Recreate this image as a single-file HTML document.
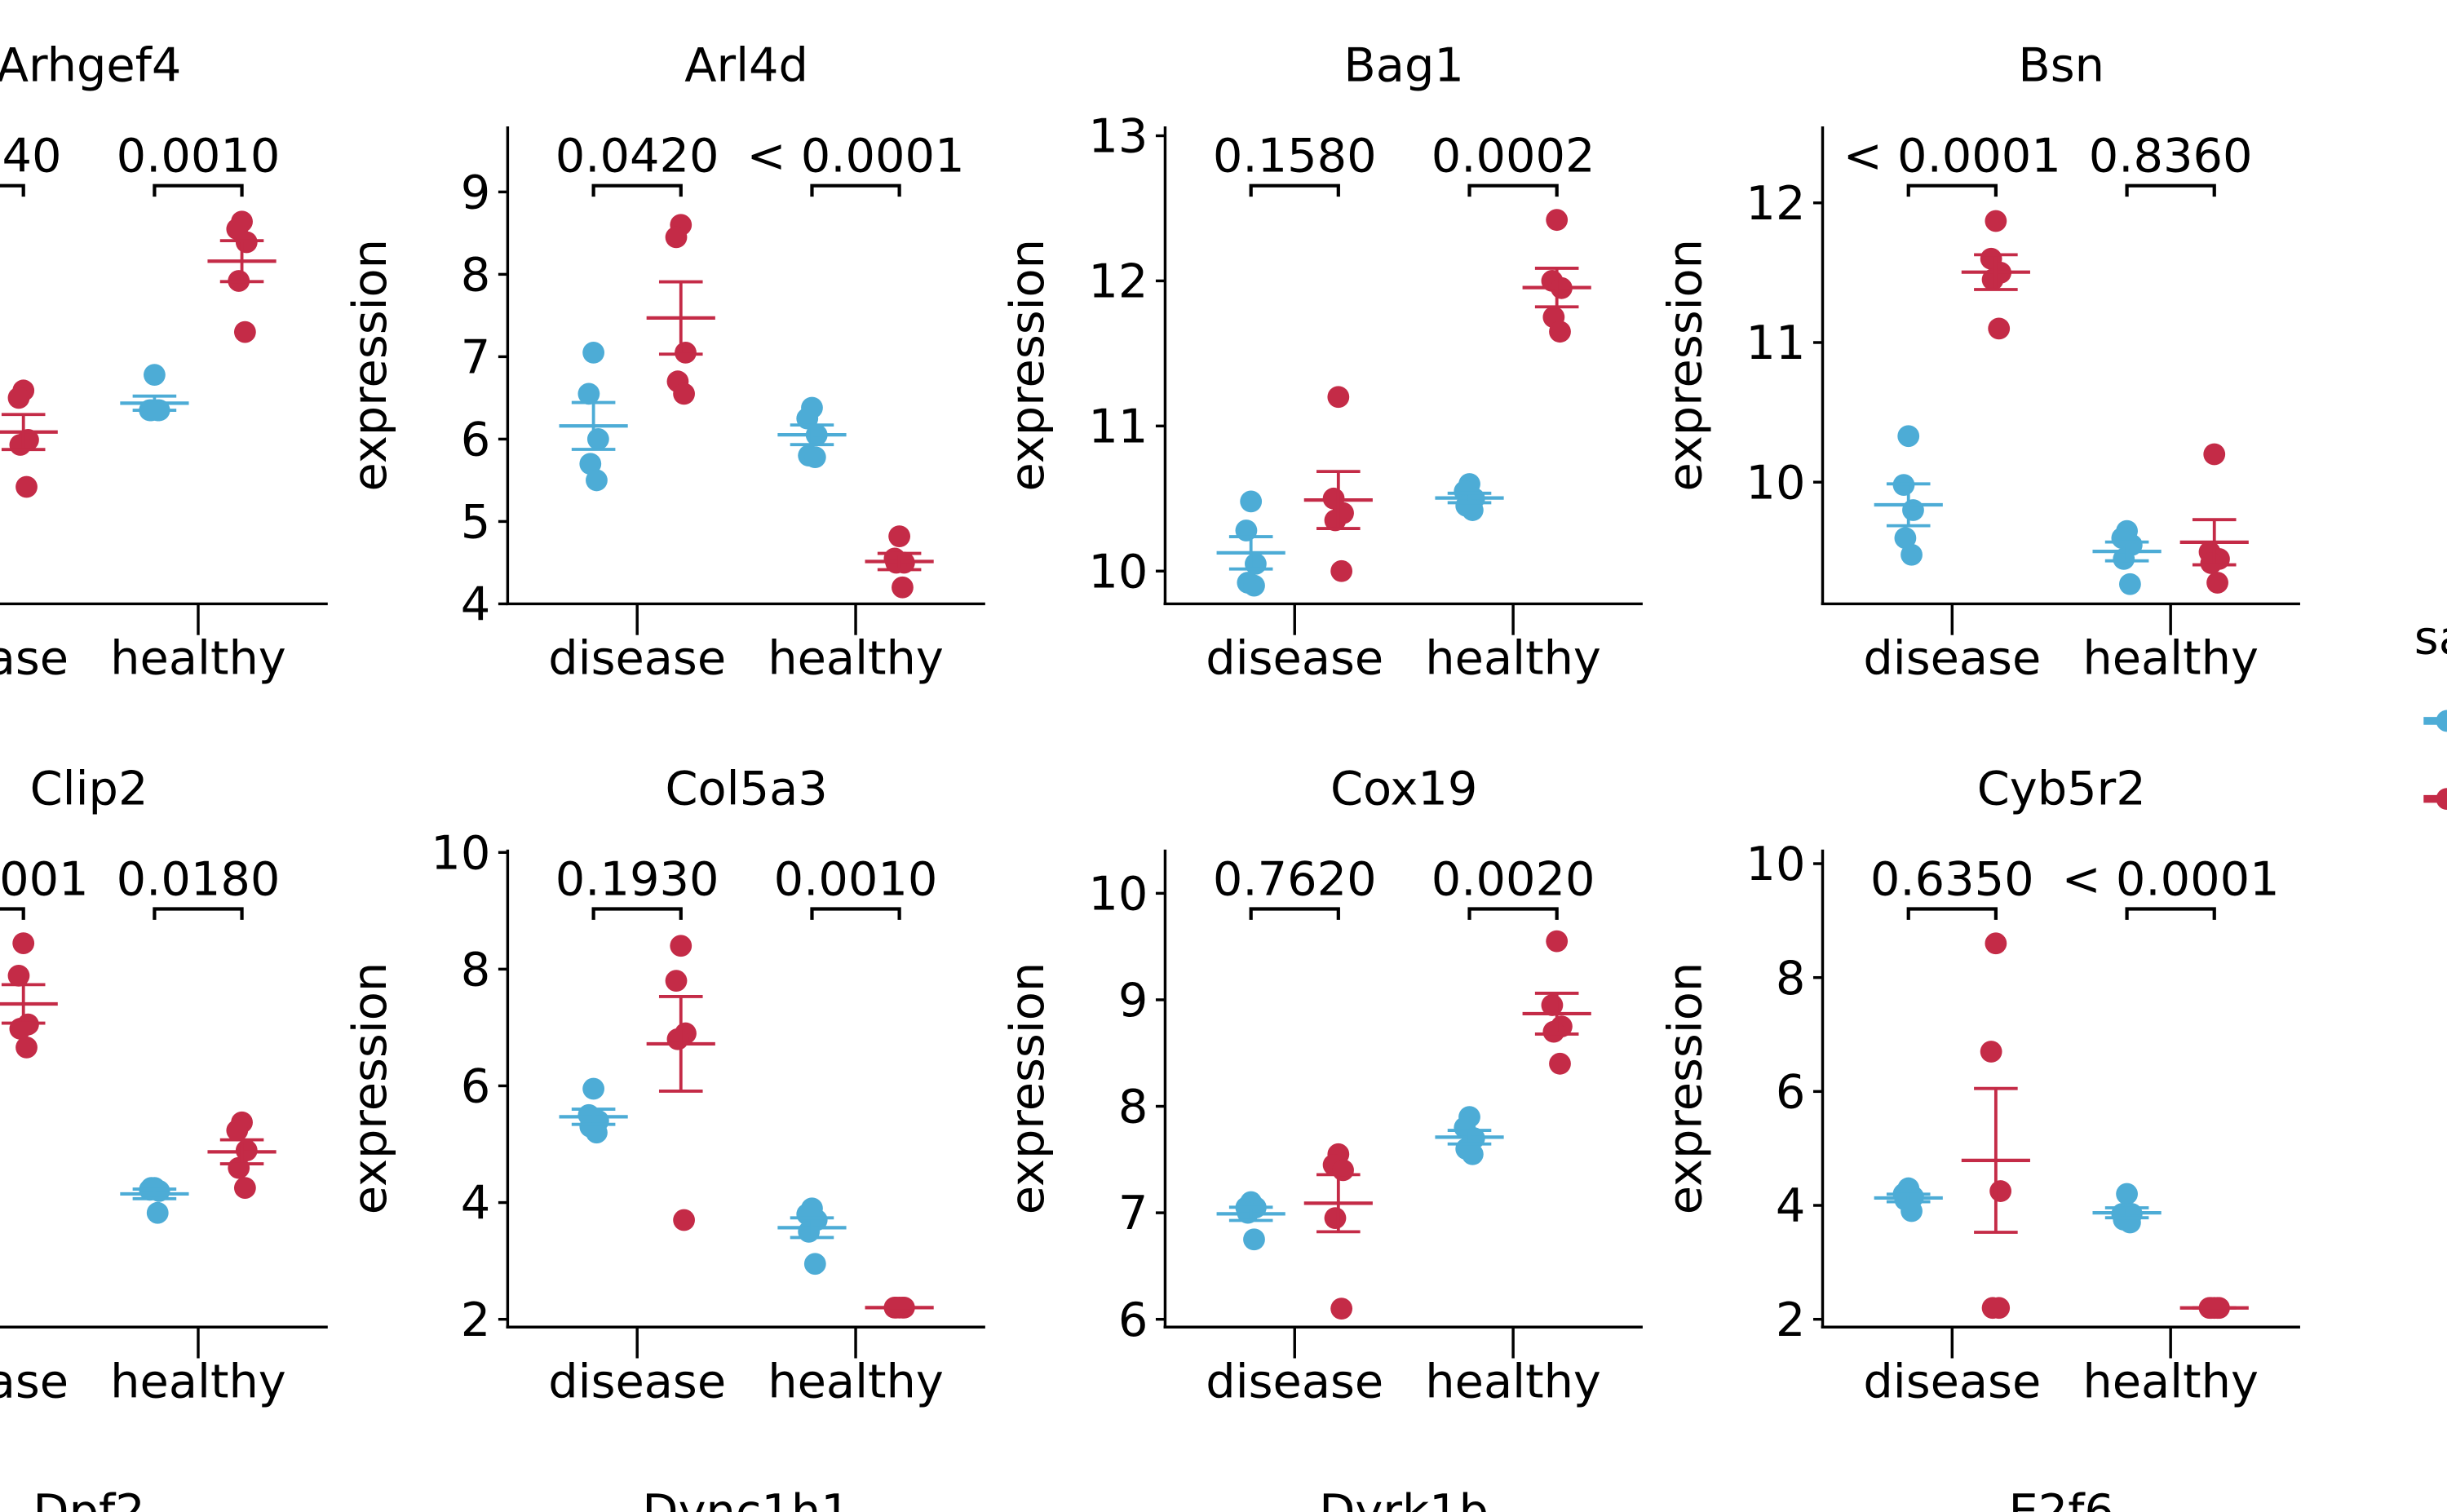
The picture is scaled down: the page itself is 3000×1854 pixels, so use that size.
<!DOCTYPE html>
<html><head><meta charset="utf-8"><style>
html,body{margin:0;padding:0;background:#fff;}
svg{display:block;font-family:"DejaVu Sans","Liberation Sans",sans-serif;}
</style></head><body>
<svg id="chart" width="3000" height="1854" viewBox="0 0 1568 969" xmlns="http://www.w3.org/2000/svg">
<rect width="1568" height="969" fill="#fff"/>
<g id="panels"></g>
<g id="legend">
<text x="1547" y="419" font-size="30" fill="#000">sample</text>
<g><line x1="1553" y1="462" x2="1568" y2="462" stroke="#4dacd6" stroke-width="5"/><circle cx="1568" cy="462" r="7" fill="#4dacd6"/></g>
<g><line x1="1553" y1="512" x2="1568" y2="512" stroke="#c42b47" stroke-width="5"/><circle cx="1568" cy="512" r="7" fill="#c42b47"/></g>
</g>
</svg>
<script>
const genes = ["Arhgef4","Arl4d","Bag1","Bsn","Clip2","Col5a3","Cox19","Cyb5r2"];
const row3Genes = ["Dpf2","Dync1h1","Dyrk1b","E2f6"];
const groups = ["disease","healthy"];
const pLabels = [["0.0940","0.0010"],["0.0420","< 0.0001"],["0.1580","0.0002"],["< 0.0001","0.8360"],["< 0.0001","0.0180"],["0.1930","0.0010"],["0.7620","0.0020"],["0.6350","< 0.0001"]];
// values: [disease-blue, disease-red, healthy-blue, healthy-red]
const diseaseBlue = [[6.2,6.0,5.9,5.8,5.7],[7.05,6.55,6.0,5.7,5.5],[10.48,10.28,10.05,9.92,9.9],[10.33,9.98,9.8,9.6,9.48],[3.5,3.3,3.2,3.1,3.0],[5.95,5.5,5.4,5.3,5.2],[7.1,7.05,7.05,7.0,6.75],[4.3,4.2,4.15,4.1,3.9]];
const diseaseRed = [[6.59,6.5,5.99,5.93,5.42],[8.6,8.45,7.05,6.7,6.55],[11.2,10.5,10.4,10.35,10.0],[11.87,11.6,11.5,11.45,11.1],[6.15,5.63,4.85,4.78,4.48],[8.4,7.8,6.9,6.8,3.7],[7.55,7.45,7.4,6.95,6.1],[8.6,6.7,4.25,2.2,2.2]];
const healthyBlue = [[6.78,6.35,6.35,6.35,6.35],[6.38,6.25,6.05,5.8,5.78],[10.6,10.55,10.5,10.45,10.42],[9.65,9.6,9.55,9.45,9.27],[2.23,2.2,2.18,2.23,1.83],[3.9,3.8,3.7,3.5,2.95],[7.9,7.8,7.7,7.6,7.55],[4.2,3.85,3.85,3.75,3.7]];
const healthyRed = [[8.64,8.55,8.39,7.92,7.3],[4.82,4.55,4.5,4.5,4.2],[12.42,12.0,11.95,11.75,11.65],[10.2,9.5,9.45,9.42,9.28],[3.28,3.15,2.83,2.55,2.23],[2.2,2.2,2.2,2.2,2.2],[9.55,8.95,8.75,8.7,8.4],[2.2,2.2,2.2,2.2,2.2]];
const yTicks = [[],[4,5,6,7,8,9],[10,11,12,13],[10,11,12],[],[2,4,6,8,10],[6,7,8,9,10],[2,4,6,8,10]];
// axis scale definitions: [refValue, refPixelOffsetFromBottom, pxPerUnit]
const scales = [[4,0,52.8],[4,0,52.8],[10,21,93],[10,78,89.5],[0,0,40],[2,5,37.4],[6,5,68.25],[2,5,36.5]];

const NS="http://www.w3.org/2000/svg";
const root=document.getElementById('panels');
function mk(tag,attrs,parent){const e=document.createElementNS(NS,tag);for(const k in attrs)e.setAttribute(k,attrs[k]);parent.appendChild(e);return e;}
const BLUE="#4dacd6",RED="#c42b47";
const FS=30;
const jit=[0,-3,3,-2,2];
function meanSe(a){const m=a.reduce((s,v)=>s+v,0)/a.length;const sd=Math.sqrt(a.reduce((s,v)=>s+(v-m)*(v-m),0)/(a.length-1));return [m,sd/Math.sqrt(a.length)];}

genes.forEach((g,i)=>{
  const col=i%4,row=Math.floor(i/4);
  const ax=-96+col*421.3, bottom=387+row*463.5, top=81+row*463.5;
  const sc=scales[i];
  const y=v=>bottom-sc[1]-(v-sc[0])*sc[2];
  const p=mk('g',{},root);
  
  
  const t=mk('text',{x:ax+153,y:top-29,'font-size':FS,'text-anchor':'middle'},p);t.textContent=g;
  
  
  const axes=mk('g',{},p);
  
  
  mk('line',{x1:ax,y1:top,x2:ax,y2:bottom,stroke:'#000','stroke-width':1.8},axes);
  mk('line',{x1:ax-1,y1:bottom,x2:ax+306,y2:bottom,stroke:'#000','stroke-width':1.8},axes);
  const yl=mk('text',{x:0,y:0,'font-size':FS,'text-anchor':'middle',transform:`translate(${ax-78},${(top+bottom)/2})`},p);
  yl.setAttribute('transform',`translate(${ax-78},${(top+bottom)/2}) rotate(-90)`);
  yl.textContent='expression';
  
  
  yTicks[i].forEach(v=>{
    const yy=y(v);
    mk('line',{x1:ax-6,y1:yy,x2:ax,y2:yy,stroke:'#000','stroke-width':1.8},axes);
    const tl=mk('text',{x:ax-11,y:yy+10.5,'font-size':FS,'text-anchor':'end'},axes);tl.textContent=v;
    
    
  });
  groups.forEach((gr,k)=>{
    const cx=ax+83+k*140;
    mk('line',{x1:cx,y1:bottom,x2:cx,y2:bottom+20,stroke:'#000','stroke-width':1.8},axes);
    const xl=mk('text',{x:cx,y:bottom+45,'font-size':FS,'text-anchor':'middle'},axes);xl.textContent=gr;
    
    
    const bx1=cx-28,bx2=cx+28,by=top+38;
    const br=mk('path',{d:`M${bx1},${by+7}V${by}H${bx2}V${by+7}`,fill:'none',stroke:'#000','stroke-width':2.2},p);
    
    
    const pl=mk('text',{x:cx,y:by-9,'font-size':FS,'text-anchor':'middle'},p);pl.textContent=pLabels[i][k];
    
    
  });
  const series=[[diseaseBlue[i],0,-28,BLUE],[diseaseRed[i],0,28,RED],[healthyBlue[i],1,-28,BLUE],[healthyRed[i],1,28,RED]];
  series.forEach(([vals,k,off,color])=>{
    const cx=ax+83+k*140+off;
    const sg=mk('g',{},p);
    
    
    vals.forEach((v,j)=>{
      const c=mk('circle',{cx:cx+jit[j],cy:y(v),r:7,fill:color},sg);
      
      
    });
    const [m,se]=meanSe(vals);
    mk('line',{x1:cx-22,y1:y(m),x2:cx+22,y2:y(m),stroke:color,'stroke-width':2.2},sg);
    mk('line',{x1:cx,y1:y(m+se),x2:cx,y2:y(m-se),stroke:color,'stroke-width':2},sg);
    mk('line',{x1:cx-14,y1:y(m+se),x2:cx+14,y2:y(m+se),stroke:color,'stroke-width':2},sg);
    mk('line',{x1:cx-14,y1:y(m-se),x2:cx+14,y2:y(m-se),stroke:color,'stroke-width':2},sg);
  });
});
row3Genes.forEach((g,c)=>{
  const t=mk('text',{x:-96+c*421.3+153,y:979,'font-size':FS,'text-anchor':'middle'},root);t.textContent=g;
  
  
});
</script>
</body></html>
